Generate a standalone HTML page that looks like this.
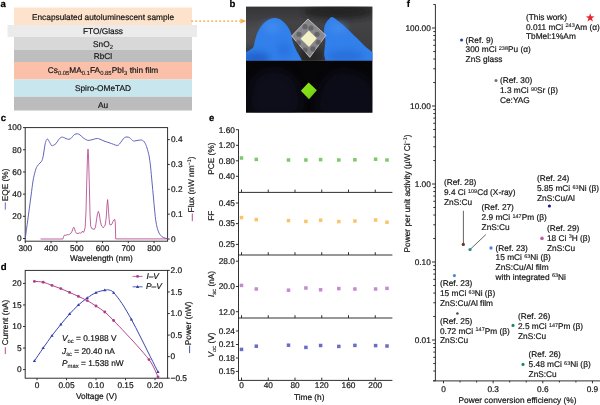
<!DOCTYPE html>
<html lang="en">
<head>
<meta charset="utf-8">
<title>Figure</title>
<style>
html,body{margin:0;padding:0;background:#fff;}
body{width:600px;height:405px;overflow:hidden;}
svg{display:block;}
svg text{font-family:"Liberation Sans",Arial,Helvetica,sans-serif;font-size:8.3px;fill:#151515;stroke:#151515;stroke-width:0.2px;text-rendering:geometricPrecision;}
svg text.pl{font-weight:bold;font-size:9.6px;fill:#000;stroke:#000;stroke-width:0.2px;}
</style>
</head>
<body>
<svg width="600" height="405" viewBox="0 0 600 405">
<defs>
<filter id="b1" x="-20%" y="-20%" width="140%" height="140%"><feGaussianBlur stdDeviation="0.7"/></filter>
<filter id="b2" x="-60%" y="-60%" width="220%" height="220%"><feGaussianBlur stdDeviation="3"/></filter>
<filter id="b5" x="-60%" y="-60%" width="220%" height="220%"><feGaussianBlur stdDeviation="5"/></filter>
<filter id="b05" x="-20%" y="-20%" width="140%" height="140%"><feGaussianBlur stdDeviation="0.45"/></filter>
<clipPath id="cpTop"><rect x="246" y="6.6" width="126.4" height="54.2"/></clipPath>
<clipPath id="cpBot"><rect x="246" y="60.8" width="126.4" height="51.9"/></clipPath>
<linearGradient id="gTop" x1="0" y1="0" x2="0" y2="1">
<stop offset="0" stop-color="#353537"/><stop offset="0.3" stop-color="#434346"/><stop offset="1" stop-color="#3a3a3d"/>
</linearGradient>
<linearGradient id="gGreen" x1="0" y1="0" x2="1" y2="1">
<stop offset="0" stop-color="#93e61f"/><stop offset="0.55" stop-color="#7fdc14"/><stop offset="1" stop-color="#62bd10"/>
</linearGradient>
</defs>
<rect x="0" y="0" width="600" height="405" fill="#ffffff"/>

<g id="panel-a">
<text x="0.50" y="7.00" text-anchor="start" class="pl">a</text>
<rect x="14" y="7.5" width="178" height="17.5" fill="#fde3cc"/>
<rect x="7.5" y="25" width="189.5" height="12" fill="#ebebeb"/>
<rect x="14" y="37" width="178" height="13" fill="#d8d8d8"/>
<rect x="14" y="50" width="178" height="12" fill="#bebebe"/>
<rect x="14" y="62" width="178" height="17.5" fill="#fbc0a9"/>
<rect x="14" y="79.5" width="178" height="17.3" fill="#c8e6ee"/>
<rect x="14" y="96.8" width="178" height="13.7" fill="#bcbcbc"/>
<text x="103.00" y="19.70" text-anchor="middle" >Encapsulated autoluminescent sample</text>
<text x="103.00" y="33.80" text-anchor="middle" >FTO/Glass</text>
<text x="103.00" y="46.60" text-anchor="middle" >SnO<tspan font-size="5.9" dy="2.0" stroke-width="0.1">2</tspan><tspan dy="-2.0" font-size="8.3">&#8203;</tspan></text>
<text x="103.00" y="58.80" text-anchor="middle" >RbCl</text>
<text x="103.00" y="73.30" text-anchor="middle" >Cs<tspan font-size="5.9" dy="2.0" stroke-width="0.1">0.05</tspan><tspan dy="-2.0" font-size="8.3">&#8203;</tspan>MA<tspan font-size="5.9" dy="2.0" stroke-width="0.1">0.1</tspan><tspan dy="-2.0" font-size="8.3">&#8203;</tspan>FA<tspan font-size="5.9" dy="2.0" stroke-width="0.1">0.85</tspan><tspan dy="-2.0" font-size="8.3">&#8203;</tspan>PbI<tspan font-size="5.9" dy="2.0" stroke-width="0.1">3</tspan><tspan dy="-2.0" font-size="8.3">&#8203;</tspan> thin film</text>
<text x="103.00" y="91.30" text-anchor="middle" >Spiro-OMeTAD</text>
<text x="103.00" y="107.90" text-anchor="middle" >Au</text>
<line x1="191.20" y1="21.10" x2="241.00" y2="21.10" stroke="#f6a53b" stroke-width="1.15" stroke-dasharray="2 2"/>
<path d="M239.6,18.5 L246.2,21.1 L239.6,23.8 L241.6,21.1 Z" fill="#f6a53b"/>
</g>
<g id="panel-b">
<text x="229.50" y="7.00" text-anchor="start" class="pl">b</text>
<rect x="246" y="6.6" width="126.4" height="54.2" fill="url(#gTop)"/>
<g clip-path="url(#cpTop)">
<ellipse cx="262" cy="36" rx="26" ry="12" fill="#505053" opacity="0.8" filter="url(#b2)"/>
<ellipse cx="338" cy="12" rx="34" ry="7" fill="#1c1c1e" opacity="0.75" filter="url(#b2)"/>
<ellipse cx="311" cy="56" rx="12" ry="9" fill="#222224" opacity="0.8" filter="url(#b2)"/>
<path d="M244.00,53.20 C244.37,53.02 245.22,52.65 246.20,52.10 C247.18,51.55 248.70,50.77 249.90,49.90 C251.10,49.03 252.57,48.38 253.40,46.90 C254.23,45.42 254.28,43.22 254.90,41.00 C255.52,38.78 256.23,35.82 257.10,33.60 C257.97,31.38 258.87,29.55 260.10,27.70 C261.33,25.85 262.87,23.95 264.50,22.50 C266.13,21.05 268.22,19.75 269.90,19.00 C271.58,18.25 272.87,17.93 274.60,18.00 C276.33,18.07 278.57,18.53 280.30,19.40 C282.03,20.27 283.58,21.70 285.00,23.20 C286.42,24.70 287.78,26.67 288.80,28.40 C289.82,30.13 290.48,31.50 291.10,33.60 C291.72,35.70 291.78,38.53 292.50,41.00 C293.22,43.47 294.32,46.07 295.40,48.40 C296.48,50.73 297.93,53.03 299.00,55.00 C300.07,56.97 301.10,58.87 301.80,60.20 C302.50,61.53 302.97,62.53 303.20,63.00 L244,63 Z" fill="#3180eb" filter="url(#b05)"/>
<ellipse cx="256" cy="58" rx="14" ry="6" fill="#1d55c0" opacity="0.7" filter="url(#b2)"/>
<ellipse cx="272" cy="27" rx="9" ry="6" fill="#4b93f2" opacity="0.55" filter="url(#b2)"/>
<ellipse cx="284" cy="50" rx="7" ry="8" fill="#2468d6" opacity="0.5" filter="url(#b2)"/>
<path d="M325.50,63.00 C325.48,62.53 325.62,61.65 325.40,60.20 C325.18,58.75 324.30,56.52 324.20,54.30 C324.10,52.08 324.60,49.37 324.80,46.90 C325.00,44.43 325.52,41.72 325.40,39.50 C325.28,37.28 324.30,35.57 324.10,33.60 C323.90,31.63 323.83,29.55 324.20,27.70 C324.57,25.85 325.22,24.20 326.30,22.50 C327.38,20.80 329.55,18.32 330.70,17.50 C331.85,16.68 332.33,17.30 333.20,17.60 C334.07,17.90 334.35,18.15 335.90,19.30 C337.45,20.45 340.17,22.52 342.50,24.50 C344.83,26.48 347.43,28.85 349.90,31.20 C352.37,33.55 354.83,36.13 357.30,38.60 C359.77,41.07 362.23,43.77 364.70,46.00 C367.17,48.23 370.38,50.58 372.10,52.00 C373.82,53.42 374.52,54.08 375.00,54.50 L375,63 Z" fill="#3180eb" filter="url(#b05)"/>
<ellipse cx="338" cy="28" rx="9" ry="6" fill="#4b93f2" opacity="0.5" filter="url(#b2)"/>
<ellipse cx="345" cy="56" rx="18" ry="6" fill="#2263d0" opacity="0.55" filter="url(#b2)"/>
<path d="M307.90,19.00 L325.90,35.30 L309.80,57.40 L291.60,36.00 Z" fill="#a2a2a6" fill-opacity="0.74" stroke="#d6d6d9" stroke-width="0.8" stroke-opacity="0.95" filter="url(#b05)"/>
<circle cx="305.00" cy="26.67" r="2.6" fill="#2c2c30" opacity="0.38" filter="url(#b1)"/>
<circle cx="311.00" cy="28.00" r="2.6" fill="#2c2c30" opacity="0.38" filter="url(#b1)"/>
<circle cx="317.00" cy="34.27" r="2.6" fill="#2c2c30" opacity="0.38" filter="url(#b1)"/>
<circle cx="299.00" cy="34.27" r="2.6" fill="#2c2c30" opacity="0.38" filter="url(#b1)"/>
<circle cx="318.33" cy="42.27" r="2.6" fill="#2c2c30" opacity="0.38" filter="url(#b1)"/>
<circle cx="298.33" cy="42.93" r="2.6" fill="#2c2c30" opacity="0.38" filter="url(#b1)"/>
<circle cx="305.00" cy="50.00" r="2.6" fill="#2c2c30" opacity="0.38" filter="url(#b1)"/>
<circle cx="313.00" cy="48.93" r="2.6" fill="#2c2c30" opacity="0.38" filter="url(#b1)"/>
<path d="M308.70,30.60 L316.80,38.30 L309.00,47.00 L300.60,38.70 Z" fill="#f4f0c6" filter="url(#b05)"/>
</g>
<rect x="246" y="60.8" width="126.4" height="51.9" fill="#060609"/>
<g clip-path="url(#cpBot)">
<path d="M252.80,82.20 C255.37,75.05 262.34,71.57 268.20,70.10 C274.07,68.63 282.87,70.28 288.00,73.40 C293.14,76.52 297.54,82.20 299.01,88.80 C300.47,95.40 304.51,108.97 296.81,113.01 C289.10,117.04 260.13,118.14 252.80,113.01 C245.47,107.87 250.23,89.35 252.80,82.20 Z" fill="#16162e" opacity="0.5" filter="url(#b5)"/>
<path d="M321.01,88.80 C322.84,82.20 327.24,76.34 332.01,73.40 C336.78,70.47 343.01,69.37 349.61,71.20 C356.21,73.03 367.58,77.44 371.61,84.40 C375.65,91.37 382.25,108.24 373.81,113.01 C365.38,117.77 329.81,117.04 321.01,113.01 C312.21,108.97 319.17,95.40 321.01,88.80 Z" fill="#16162e" opacity="0.45" filter="url(#b5)"/>
<path d="M308.60,82.50 L316.90,90.30 L309.00,99.30 L300.90,90.80 Z" fill="url(#gGreen)" filter="url(#b05)"/>
</g>
</g>
<g id="panel-c">
<text x="0.80" y="120.80" text-anchor="start" class="pl">c</text>
<rect x="25.2" y="127.6" width="142.40" height="113.60" fill="none" stroke="#262626" stroke-width="0.95"/>
<line x1="23.00" y1="238.50" x2="25.20" y2="238.50" stroke="#262626" stroke-width="0.95" />
<text x="21.60" y="241.35" text-anchor="end" >0</text>
<line x1="23.00" y1="216.32" x2="25.20" y2="216.32" stroke="#262626" stroke-width="0.95" />
<text x="21.60" y="219.17" text-anchor="end" >20</text>
<line x1="23.00" y1="194.14" x2="25.20" y2="194.14" stroke="#262626" stroke-width="0.95" />
<text x="21.60" y="196.99" text-anchor="end" >40</text>
<line x1="23.00" y1="171.96" x2="25.20" y2="171.96" stroke="#262626" stroke-width="0.95" />
<text x="21.60" y="174.81" text-anchor="end" >60</text>
<line x1="23.00" y1="149.78" x2="25.20" y2="149.78" stroke="#262626" stroke-width="0.95" />
<text x="21.60" y="152.63" text-anchor="end" >80</text>
<line x1="23.00" y1="127.60" x2="25.20" y2="127.60" stroke="#262626" stroke-width="0.95" />
<text x="21.60" y="130.45" text-anchor="end" >100</text>
<line x1="167.60" y1="239.00" x2="169.80" y2="239.00" stroke="#262626" stroke-width="0.95" />
<text x="171.00" y="241.85" text-anchor="start" >0</text>
<line x1="167.60" y1="214.15" x2="169.80" y2="214.15" stroke="#262626" stroke-width="0.95" />
<text x="171.00" y="217.00" text-anchor="start" >0.1</text>
<line x1="167.60" y1="189.30" x2="169.80" y2="189.30" stroke="#262626" stroke-width="0.95" />
<text x="171.00" y="192.15" text-anchor="start" >0.2</text>
<line x1="167.60" y1="164.45" x2="169.80" y2="164.45" stroke="#262626" stroke-width="0.95" />
<text x="171.00" y="167.30" text-anchor="start" >0.3</text>
<line x1="167.60" y1="139.60" x2="169.80" y2="139.60" stroke="#262626" stroke-width="0.95" />
<text x="171.00" y="142.45" text-anchor="start" >0.4</text>
<line x1="25.30" y1="241.20" x2="25.30" y2="243.20" stroke="#262626" stroke-width="0.95" />
<text x="25.30" y="251.00" text-anchor="middle" >300</text>
<line x1="51.05" y1="241.20" x2="51.05" y2="243.20" stroke="#262626" stroke-width="0.95" />
<text x="51.05" y="251.00" text-anchor="middle" >400</text>
<line x1="76.80" y1="241.20" x2="76.80" y2="243.20" stroke="#262626" stroke-width="0.95" />
<text x="76.80" y="251.00" text-anchor="middle" >500</text>
<line x1="102.55" y1="241.20" x2="102.55" y2="243.20" stroke="#262626" stroke-width="0.95" />
<text x="102.55" y="251.00" text-anchor="middle" >600</text>
<line x1="128.30" y1="241.20" x2="128.30" y2="243.20" stroke="#262626" stroke-width="0.95" />
<text x="128.30" y="251.00" text-anchor="middle" >700</text>
<line x1="154.05" y1="241.20" x2="154.05" y2="243.20" stroke="#262626" stroke-width="0.95" />
<text x="154.05" y="251.00" text-anchor="middle" >800</text>
<text x="101.40" y="261.30" text-anchor="middle" >Wavelength (nm)</text>
<text transform="translate(7.90 184.90) rotate(-90)" text-anchor="middle" >EQE (%)</text>
<line x1="5.30" y1="209.70" x2="5.30" y2="202.40" stroke="#5a5cb8" stroke-width="0.9" />
<text transform="translate(193.90 184.40) rotate(-90)" text-anchor="middle" >Flux (nW nm<tspan font-size="5.5" dy="-2.5" stroke-width="0.1">&#8722;1</tspan><tspan dy="2.5" font-size="8.3">&#8203;</tspan>)</text>
<line x1="192.30" y1="221.10" x2="192.30" y2="213.50" stroke="#ae3d86" stroke-width="0.9" />
<path d="M25.40,237.50 C25.75,234.92 26.57,228.92 27.50,222.00 C28.43,215.08 30.08,202.83 31.00,196.00 C31.92,189.17 32.33,185.00 33.00,181.00 C33.67,177.00 34.33,174.42 35.00,172.00 C35.67,169.58 36.17,168.00 37.00,166.50 C37.83,165.00 39.17,164.00 40.00,163.00 C40.83,162.00 41.43,161.83 42.00,160.50 C42.57,159.17 42.97,157.25 43.40,155.00 C43.83,152.75 44.20,149.25 44.60,147.00 C45.00,144.75 45.33,142.83 45.80,141.50 C46.27,140.17 46.83,139.00 47.40,139.00 C47.97,139.00 48.52,140.42 49.20,141.50 C49.88,142.58 50.78,144.88 51.50,145.50 C52.22,146.12 52.75,145.52 53.50,145.20 C54.25,144.88 55.17,144.50 56.00,143.60 C56.83,142.70 57.60,140.87 58.50,139.80 C59.40,138.73 60.40,137.53 61.40,137.20 C62.40,136.87 63.48,137.47 64.50,137.80 C65.52,138.13 66.50,139.03 67.50,139.20 C68.50,139.37 69.67,139.25 70.50,138.80 C71.33,138.35 71.83,137.22 72.50,136.50 C73.17,135.78 73.65,134.95 74.50,134.50 C75.35,134.05 76.68,133.72 77.60,133.80 C78.52,133.88 79.02,134.30 80.00,135.00 C80.98,135.70 82.27,137.12 83.50,138.00 C84.73,138.88 86.15,139.97 87.40,140.30 C88.65,140.63 89.82,140.22 91.00,140.00 C92.18,139.78 93.43,139.25 94.50,139.00 C95.57,138.75 96.48,138.47 97.40,138.50 C98.32,138.53 98.90,138.78 100.00,139.20 C101.10,139.62 102.50,140.42 104.00,141.00 C105.50,141.58 107.42,142.15 109.00,142.70 C110.58,143.25 112.13,143.83 113.50,144.30 C114.87,144.77 116.20,145.55 117.20,145.50 C118.20,145.45 118.70,144.82 119.50,144.00 C120.30,143.18 121.17,141.67 122.00,140.60 C122.83,139.53 123.67,138.20 124.50,137.60 C125.33,137.00 126.18,137.00 127.00,137.00 C127.82,137.00 128.65,137.18 129.40,137.60 C130.15,138.02 130.82,138.93 131.50,139.50 C132.18,140.07 132.75,140.80 133.50,141.00 C134.25,141.20 135.08,140.83 136.00,140.70 C136.92,140.57 138.08,140.32 139.00,140.20 C139.92,140.08 140.75,139.87 141.50,140.00 C142.25,140.13 142.87,140.42 143.50,141.00 C144.13,141.58 144.72,142.33 145.30,143.50 C145.88,144.67 146.38,146.00 147.00,148.00 C147.62,150.00 148.40,152.33 149.00,155.50 C149.60,158.67 150.10,162.58 150.60,167.00 C151.10,171.42 151.53,177.00 152.00,182.00 C152.47,187.00 152.97,192.33 153.40,197.00 C153.83,201.67 154.17,205.83 154.60,210.00 C155.03,214.17 155.43,218.58 156.00,222.00 C156.57,225.42 157.25,228.30 158.00,230.50 C158.75,232.70 159.58,234.02 160.50,235.20 C161.42,236.38 162.35,237.03 163.50,237.60 C164.65,238.17 166.75,238.43 167.40,238.60" fill="none" stroke="#5a5cb8" stroke-width="0.95" stroke-linejoin="round" stroke-linecap="round"/>
<polyline points="41.00,239.00 62.80,239.00 63.60,236.50 64.60,235.00 66.00,235.40 67.00,234.60 68.50,234.80 70.00,234.00 71.00,233.20 72.20,231.00 73.20,228.00 73.80,227.20 74.50,228.50 75.40,231.60 76.50,233.40 78.00,233.60 79.20,232.80 80.50,233.20 81.80,232.40 82.60,231.00 83.30,232.40 84.30,231.00 85.20,227.00 86.00,211.00 86.70,184.00 87.50,156.00 88.00,149.00 88.50,156.00 89.30,184.00 90.00,214.00 90.70,226.00 91.60,228.40 93.00,229.00 94.30,229.40 95.50,227.00 96.50,220.00 97.50,213.50 98.40,211.40 99.30,214.00 100.30,221.00 101.20,225.00 102.30,226.60 103.20,227.80 104.20,226.60 105.20,225.00 106.20,218.00 107.00,205.00 107.60,199.60 108.20,206.00 109.00,218.00 109.80,224.60 111.00,225.00 112.00,223.80 113.00,221.50 114.00,219.80 114.70,219.30 115.30,222.50 115.70,238.90 167.40,238.90" fill="none" stroke="#ae3d86" stroke-width="0.8" stroke-linejoin="round" stroke-linecap="round" />
</g>
<g id="panel-d">
<text x="0.80" y="270.30" text-anchor="start" class="pl">d</text>
<rect x="25.2" y="270.4" width="142.40" height="107.80" fill="none" stroke="#262626" stroke-width="0.95"/>
<line x1="23.00" y1="369.60" x2="25.20" y2="369.60" stroke="#262626" stroke-width="0.95" />
<text x="21.60" y="372.45" text-anchor="end" >0</text>
<line x1="23.00" y1="348.05" x2="25.20" y2="348.05" stroke="#262626" stroke-width="0.95" />
<text x="21.60" y="350.90" text-anchor="end" >5</text>
<line x1="23.00" y1="326.50" x2="25.20" y2="326.50" stroke="#262626" stroke-width="0.95" />
<text x="21.60" y="329.35" text-anchor="end" >10</text>
<line x1="23.00" y1="304.95" x2="25.20" y2="304.95" stroke="#262626" stroke-width="0.95" />
<text x="21.60" y="307.80" text-anchor="end" >15</text>
<line x1="23.00" y1="283.40" x2="25.20" y2="283.40" stroke="#262626" stroke-width="0.95" />
<text x="21.60" y="286.25" text-anchor="end" >20</text>
<line x1="167.60" y1="378.20" x2="169.80" y2="378.20" stroke="#262626" stroke-width="0.95" />
<text x="170.60" y="381.05" text-anchor="start" >&#8722;0.5</text>
<line x1="167.60" y1="356.64" x2="169.80" y2="356.64" stroke="#262626" stroke-width="0.95" />
<text x="170.60" y="359.49" text-anchor="start" >0</text>
<line x1="167.60" y1="335.08" x2="169.80" y2="335.08" stroke="#262626" stroke-width="0.95" />
<text x="170.60" y="337.93" text-anchor="start" >0.5</text>
<line x1="167.60" y1="313.52" x2="169.80" y2="313.52" stroke="#262626" stroke-width="0.95" />
<text x="170.60" y="316.37" text-anchor="start" >1.0</text>
<line x1="167.60" y1="291.96" x2="169.80" y2="291.96" stroke="#262626" stroke-width="0.95" />
<text x="170.60" y="294.81" text-anchor="start" >1.5</text>
<line x1="167.60" y1="270.40" x2="169.80" y2="270.40" stroke="#262626" stroke-width="0.95" />
<text x="170.60" y="273.25" text-anchor="start" >2.0</text>
<line x1="37.00" y1="378.20" x2="37.00" y2="380.20" stroke="#262626" stroke-width="0.95" />
<text x="37.00" y="388.00" text-anchor="middle" >0</text>
<line x1="66.50" y1="378.20" x2="66.50" y2="380.20" stroke="#262626" stroke-width="0.95" />
<text x="66.50" y="388.00" text-anchor="middle" >0.05</text>
<line x1="96.00" y1="378.20" x2="96.00" y2="380.20" stroke="#262626" stroke-width="0.95" />
<text x="96.00" y="388.00" text-anchor="middle" >0.10</text>
<line x1="125.50" y1="378.20" x2="125.50" y2="380.20" stroke="#262626" stroke-width="0.95" />
<text x="125.50" y="388.00" text-anchor="middle" >0.15</text>
<line x1="155.00" y1="378.20" x2="155.00" y2="380.20" stroke="#262626" stroke-width="0.95" />
<text x="155.00" y="388.00" text-anchor="middle" >0.20</text>
<text x="96.50" y="399.20" text-anchor="middle" >Voltage (V)</text>
<text transform="translate(7.90 322.50) rotate(-90)" text-anchor="middle" >Current (nA)</text>
<line x1="5.30" y1="354.10" x2="5.30" y2="347.20" stroke="#ae3d86" stroke-width="0.9" />
<text transform="translate(191.40 323.30) rotate(-90)" text-anchor="middle" >Power (nW)</text>
<line x1="189.60" y1="353.10" x2="189.60" y2="345.70" stroke="#323bac" stroke-width="0.9" />
<path d="M34.40,361.00 C35.87,358.83 40.27,352.23 43.20,348.00 C46.13,343.77 49.07,339.52 52.00,335.60 C54.93,331.68 57.87,328.10 60.80,324.50 C63.73,320.90 66.67,317.25 69.60,314.00 C72.53,310.75 75.47,307.67 78.40,305.00 C81.33,302.33 84.27,300.07 87.20,298.00 C90.13,295.93 93.07,293.90 96.00,292.60 C98.93,291.30 102.55,290.62 104.80,290.20 C107.05,289.78 108.03,289.70 109.50,290.10 C110.97,290.50 111.52,290.37 113.60,292.60 C115.68,294.83 119.03,299.03 122.00,303.50 C124.97,307.97 128.40,313.98 131.40,319.40 C134.40,324.82 137.07,330.23 140.00,336.00 C142.93,341.77 146.00,348.00 149.00,354.00 C152.00,360.00 156.50,369.00 158.00,372.00" fill="none" stroke="#323bac" stroke-width="0.95" stroke-linejoin="round" stroke-linecap="round"/>
<path d="M34.40,281.40 C35.87,281.53 40.27,281.53 43.20,282.20 C46.13,282.87 49.07,284.33 52.00,285.40 C54.93,286.47 57.87,287.43 60.80,288.60 C63.73,289.77 66.67,291.10 69.60,292.40 C72.53,293.70 75.47,295.03 78.40,296.40 C81.33,297.77 84.27,299.00 87.20,300.60 C90.13,302.20 93.07,304.10 96.00,306.00 C98.93,307.90 101.87,309.58 104.80,312.00 C107.73,314.42 110.23,317.08 113.60,320.50 C116.97,323.92 121.10,328.33 125.00,332.50 C128.90,336.67 133.00,340.98 137.00,345.50 C141.00,350.02 146.17,355.85 149.00,359.60 C151.83,363.35 152.50,365.10 154.00,368.00 C155.50,370.90 157.33,375.50 158.00,377.00" fill="none" stroke="#ae3d86" stroke-width="0.95" stroke-linejoin="round" stroke-linecap="round"/>
<circle cx="34.40" cy="281.40" r="1.45" fill="#ae3d86"/>
<circle cx="43.20" cy="282.20" r="1.45" fill="#ae3d86"/>
<circle cx="52.00" cy="285.40" r="1.45" fill="#ae3d86"/>
<circle cx="60.80" cy="288.60" r="1.45" fill="#ae3d86"/>
<circle cx="69.60" cy="292.40" r="1.45" fill="#ae3d86"/>
<circle cx="78.40" cy="296.40" r="1.45" fill="#ae3d86"/>
<circle cx="87.20" cy="300.60" r="1.45" fill="#ae3d86"/>
<circle cx="96.00" cy="306.00" r="1.45" fill="#ae3d86"/>
<circle cx="104.80" cy="312.00" r="1.45" fill="#ae3d86"/>
<circle cx="113.60" cy="320.50" r="1.45" fill="#ae3d86"/>
<circle cx="149.00" cy="359.60" r="1.45" fill="#ae3d86"/>
<circle cx="158.00" cy="377.00" r="1.45" fill="#ae3d86"/>
<path d="M34.40,359.30 L36.00,362.10 L32.80,362.10 Z" fill="#323bac"/>
<path d="M43.20,346.30 L44.80,349.10 L41.60,349.10 Z" fill="#323bac"/>
<path d="M52.00,333.90 L53.60,336.70 L50.40,336.70 Z" fill="#323bac"/>
<path d="M60.80,322.80 L62.40,325.60 L59.20,325.60 Z" fill="#323bac"/>
<path d="M69.60,312.30 L71.20,315.10 L68.00,315.10 Z" fill="#323bac"/>
<path d="M78.40,303.30 L80.00,306.10 L76.80,306.10 Z" fill="#323bac"/>
<path d="M87.20,296.30 L88.80,299.10 L85.60,299.10 Z" fill="#323bac"/>
<path d="M96.00,290.90 L97.60,293.70 L94.40,293.70 Z" fill="#323bac"/>
<path d="M104.80,288.50 L106.40,291.30 L103.20,291.30 Z" fill="#323bac"/>
<path d="M113.60,290.90 L115.20,293.70 L112.00,293.70 Z" fill="#323bac"/>
<path d="M131.40,317.70 L133.00,320.50 L129.80,320.50 Z" fill="#323bac"/>
<path d="M158.00,370.30 L159.60,373.10 L156.40,373.10 Z" fill="#323bac"/>
<line x1="132.60" y1="276.40" x2="142.60" y2="276.40" stroke="#ae3d86" stroke-width="0.8" />
<circle cx="137.6" cy="276.4" r="1.45" fill="#ae3d86"/>
<text x="146.40" y="279.00" text-anchor="start" font-style="italic">I&#8211;V</text>
<line x1="132.60" y1="286.80" x2="142.60" y2="286.80" stroke="#323bac" stroke-width="0.8" />
<path d="M137.6,285.1 L139.2,287.9 L136,287.9 Z" fill="#323bac"/>
<text x="146.00" y="289.40" text-anchor="start" font-style="italic">P&#8211;V</text>
<text x="62.00" y="341.40" text-anchor="start" ><tspan font-style="italic">V</tspan><tspan font-size="5.9" dy="2.0" stroke-width="0.1">oc</tspan><tspan dy="-2.0" font-size="8.3">&#8203;</tspan> = 0.1988 V</text>
<text x="62.00" y="353.50" text-anchor="start" ><tspan font-style="italic">J</tspan><tspan font-size="5.9" dy="2.0" stroke-width="0.1">sc</tspan><tspan dy="-2.0" font-size="8.3">&#8203;</tspan> = 20.40 nA</text>
<text x="62.00" y="365.50" text-anchor="start" ><tspan font-style="italic">P</tspan><tspan font-size="5.9" dy="2.0" stroke-width="0.1">max</tspan><tspan dy="-2.0" font-size="8.3">&#8203;</tspan> = 1.538 nW</text>
</g>
<g id="panel-e">
<text x="208.90" y="120.90" text-anchor="start" class="pl">e</text>
<line x1="238.50" y1="129.40" x2="238.50" y2="380.40" stroke="#262626" stroke-width="0.95" />
<line x1="238.10" y1="192.40" x2="392.40" y2="192.40" stroke="#262626" stroke-width="0.95" />
<line x1="241.50" y1="189.60" x2="241.50" y2="192.40" stroke="#262626" stroke-width="0.95" />
<line x1="268.25" y1="189.60" x2="268.25" y2="192.40" stroke="#262626" stroke-width="0.95" />
<line x1="295.00" y1="189.60" x2="295.00" y2="192.40" stroke="#262626" stroke-width="0.95" />
<line x1="321.75" y1="189.60" x2="321.75" y2="192.40" stroke="#262626" stroke-width="0.95" />
<line x1="348.50" y1="189.60" x2="348.50" y2="192.40" stroke="#262626" stroke-width="0.95" />
<line x1="375.25" y1="189.60" x2="375.25" y2="192.40" stroke="#262626" stroke-width="0.95" />
<line x1="238.10" y1="255.00" x2="392.40" y2="255.00" stroke="#262626" stroke-width="0.95" />
<line x1="241.50" y1="252.20" x2="241.50" y2="255.00" stroke="#262626" stroke-width="0.95" />
<line x1="268.25" y1="252.20" x2="268.25" y2="255.00" stroke="#262626" stroke-width="0.95" />
<line x1="295.00" y1="252.20" x2="295.00" y2="255.00" stroke="#262626" stroke-width="0.95" />
<line x1="321.75" y1="252.20" x2="321.75" y2="255.00" stroke="#262626" stroke-width="0.95" />
<line x1="348.50" y1="252.20" x2="348.50" y2="255.00" stroke="#262626" stroke-width="0.95" />
<line x1="375.25" y1="252.20" x2="375.25" y2="255.00" stroke="#262626" stroke-width="0.95" />
<line x1="238.10" y1="318.00" x2="392.40" y2="318.00" stroke="#262626" stroke-width="0.95" />
<line x1="241.50" y1="315.20" x2="241.50" y2="318.00" stroke="#262626" stroke-width="0.95" />
<line x1="268.25" y1="315.20" x2="268.25" y2="318.00" stroke="#262626" stroke-width="0.95" />
<line x1="295.00" y1="315.20" x2="295.00" y2="318.00" stroke="#262626" stroke-width="0.95" />
<line x1="321.75" y1="315.20" x2="321.75" y2="318.00" stroke="#262626" stroke-width="0.95" />
<line x1="348.50" y1="315.20" x2="348.50" y2="318.00" stroke="#262626" stroke-width="0.95" />
<line x1="375.25" y1="315.20" x2="375.25" y2="318.00" stroke="#262626" stroke-width="0.95" />
<line x1="238.10" y1="380.40" x2="392.40" y2="380.40" stroke="#262626" stroke-width="0.95" />
<line x1="241.50" y1="377.60" x2="241.50" y2="380.40" stroke="#262626" stroke-width="0.95" />
<line x1="268.25" y1="377.60" x2="268.25" y2="380.40" stroke="#262626" stroke-width="0.95" />
<line x1="295.00" y1="377.60" x2="295.00" y2="380.40" stroke="#262626" stroke-width="0.95" />
<line x1="321.75" y1="377.60" x2="321.75" y2="380.40" stroke="#262626" stroke-width="0.95" />
<line x1="348.50" y1="377.60" x2="348.50" y2="380.40" stroke="#262626" stroke-width="0.95" />
<line x1="375.25" y1="377.60" x2="375.25" y2="380.40" stroke="#262626" stroke-width="0.95" />
<text x="241.50" y="388.40" text-anchor="middle" >0</text>
<text x="268.25" y="388.40" text-anchor="middle" >40</text>
<text x="295.00" y="388.40" text-anchor="middle" >80</text>
<text x="321.75" y="388.40" text-anchor="middle" >120</text>
<text x="348.50" y="388.40" text-anchor="middle" >160</text>
<text x="375.25" y="388.40" text-anchor="middle" >200</text>
<text x="309.20" y="400.00" text-anchor="middle" >Time (h)</text>
<line x1="235.90" y1="129.70" x2="238.50" y2="129.70" stroke="#262626" stroke-width="0.95" />
<text x="234.90" y="132.55" text-anchor="end" >1.60</text>
<line x1="235.90" y1="145.30" x2="238.50" y2="145.30" stroke="#262626" stroke-width="0.95" />
<text x="234.90" y="148.15" text-anchor="end" >1.20</text>
<line x1="235.90" y1="160.80" x2="238.50" y2="160.80" stroke="#262626" stroke-width="0.95" />
<text x="234.90" y="163.65" text-anchor="end" >0.80</text>
<line x1="235.90" y1="176.30" x2="238.50" y2="176.30" stroke="#262626" stroke-width="0.95" />
<text x="234.90" y="179.15" text-anchor="end" >0.40</text>
<line x1="235.90" y1="203.00" x2="238.50" y2="203.00" stroke="#262626" stroke-width="0.95" />
<text x="234.90" y="205.85" text-anchor="end" >0.45</text>
<line x1="235.90" y1="223.60" x2="238.50" y2="223.60" stroke="#262626" stroke-width="0.95" />
<text x="234.90" y="226.45" text-anchor="end" >0.35</text>
<line x1="235.90" y1="244.40" x2="238.50" y2="244.40" stroke="#262626" stroke-width="0.95" />
<text x="234.90" y="247.25" text-anchor="end" >0.25</text>
<line x1="235.90" y1="261.20" x2="238.50" y2="261.20" stroke="#262626" stroke-width="0.95" />
<text x="234.90" y="264.05" text-anchor="end" >28.0</text>
<line x1="235.90" y1="286.50" x2="238.50" y2="286.50" stroke="#262626" stroke-width="0.95" />
<text x="234.90" y="289.35" text-anchor="end" >20.0</text>
<line x1="235.90" y1="311.70" x2="238.50" y2="311.70" stroke="#262626" stroke-width="0.95" />
<text x="234.90" y="314.55" text-anchor="end" >12.0</text>
<line x1="235.90" y1="331.00" x2="238.50" y2="331.00" stroke="#262626" stroke-width="0.95" />
<text x="234.90" y="333.85" text-anchor="end" >0.24</text>
<line x1="235.90" y1="344.50" x2="238.50" y2="344.50" stroke="#262626" stroke-width="0.95" />
<text x="234.90" y="347.35" text-anchor="end" >0.21</text>
<line x1="235.90" y1="358.00" x2="238.50" y2="358.00" stroke="#262626" stroke-width="0.95" />
<text x="234.90" y="360.85" text-anchor="end" >0.18</text>
<line x1="235.90" y1="371.40" x2="238.50" y2="371.40" stroke="#262626" stroke-width="0.95" />
<text x="234.90" y="374.25" text-anchor="end" >0.15</text>
<text transform="translate(213.60 158.60) rotate(-90)" text-anchor="middle" >PCE (%)</text>
<text transform="translate(213.70 215.80) rotate(-90)" text-anchor="middle" >FF</text>
<text transform="translate(213.50 284.00) rotate(-90)" text-anchor="middle" ><tspan font-style="italic">I</tspan><tspan font-size="5.9" dy="2.0" stroke-width="0.1">sc</tspan><tspan dy="-2.0" font-size="8.3">&#8203;</tspan> (nA)</text>
<text transform="translate(213.50 345.00) rotate(-90)" text-anchor="middle" ><tspan font-style="italic">V</tspan><tspan font-size="5.9" dy="2.0" stroke-width="0.1">oc</tspan><tspan dy="-2.0" font-size="8.3">&#8203;</tspan> (V)</text>
<rect x="239.75" y="156.25" width="3.5" height="3.5" fill="#7cc96a"/>
<rect x="254.55" y="157.65" width="3.5" height="3.5" fill="#7cc96a"/>
<rect x="286.75" y="158.25" width="3.5" height="3.5" fill="#7cc96a"/>
<rect x="304.15" y="158.25" width="3.5" height="3.5" fill="#7cc96a"/>
<rect x="318.85" y="157.85" width="3.5" height="3.5" fill="#7cc96a"/>
<rect x="337.05" y="158.25" width="3.5" height="3.5" fill="#7cc96a"/>
<rect x="353.15" y="158.05" width="3.5" height="3.5" fill="#7cc96a"/>
<rect x="373.85" y="157.45" width="3.5" height="3.5" fill="#7cc96a"/>
<rect x="385.25" y="158.25" width="3.5" height="3.5" fill="#7cc96a"/>
<rect x="239.75" y="215.85" width="3.5" height="3.5" fill="#fac368"/>
<rect x="254.55" y="217.85" width="3.5" height="3.5" fill="#fac368"/>
<rect x="286.75" y="218.85" width="3.5" height="3.5" fill="#fac368"/>
<rect x="304.15" y="219.65" width="3.5" height="3.5" fill="#fac368"/>
<rect x="318.85" y="218.45" width="3.5" height="3.5" fill="#fac368"/>
<rect x="337.05" y="219.85" width="3.5" height="3.5" fill="#fac368"/>
<rect x="353.15" y="219.25" width="3.5" height="3.5" fill="#fac368"/>
<rect x="373.85" y="218.25" width="3.5" height="3.5" fill="#fac368"/>
<rect x="385.25" y="220.45" width="3.5" height="3.5" fill="#fac368"/>
<rect x="239.75" y="283.65" width="3.5" height="3.5" fill="#c48bcf"/>
<rect x="254.55" y="287.25" width="3.5" height="3.5" fill="#c48bcf"/>
<rect x="286.75" y="288.45" width="3.5" height="3.5" fill="#c48bcf"/>
<rect x="304.15" y="286.25" width="3.5" height="3.5" fill="#c48bcf"/>
<rect x="318.85" y="288.05" width="3.5" height="3.5" fill="#c48bcf"/>
<rect x="337.05" y="286.85" width="3.5" height="3.5" fill="#c48bcf"/>
<rect x="353.15" y="287.25" width="3.5" height="3.5" fill="#c48bcf"/>
<rect x="373.85" y="287.25" width="3.5" height="3.5" fill="#c48bcf"/>
<rect x="385.25" y="286.65" width="3.5" height="3.5" fill="#c48bcf"/>
<rect x="239.75" y="347.65" width="3.5" height="3.5" fill="#6a6cc6"/>
<rect x="254.55" y="344.45" width="3.5" height="3.5" fill="#6a6cc6"/>
<rect x="286.75" y="343.45" width="3.5" height="3.5" fill="#6a6cc6"/>
<rect x="304.15" y="345.65" width="3.5" height="3.5" fill="#6a6cc6"/>
<rect x="318.85" y="343.75" width="3.5" height="3.5" fill="#6a6cc6"/>
<rect x="337.05" y="344.65" width="3.5" height="3.5" fill="#6a6cc6"/>
<rect x="353.15" y="343.65" width="3.5" height="3.5" fill="#6a6cc6"/>
<rect x="373.85" y="343.85" width="3.5" height="3.5" fill="#6a6cc6"/>
<rect x="385.25" y="344.25" width="3.5" height="3.5" fill="#6a6cc6"/>
</g>
<g id="panel-f">
<text x="406.80" y="6.90" text-anchor="start" class="pl">f</text>
<line x1="435.40" y1="4.40" x2="435.40" y2="380.90" stroke="#262626" stroke-width="0.95" />
<line x1="433.00" y1="380.90" x2="600.00" y2="380.90" stroke="#262626" stroke-width="0.95" />
<line x1="432.00" y1="28.00" x2="435.40" y2="28.00" stroke="#262626" stroke-width="0.95" />
<text x="430.80" y="30.85" text-anchor="end" >100.00</text>
<line x1="432.00" y1="106.00" x2="435.40" y2="106.00" stroke="#262626" stroke-width="0.95" />
<text x="430.80" y="108.85" text-anchor="end" >10.00</text>
<line x1="432.00" y1="184.00" x2="435.40" y2="184.00" stroke="#262626" stroke-width="0.95" />
<text x="430.80" y="186.85" text-anchor="end" >1.00</text>
<line x1="432.00" y1="262.00" x2="435.40" y2="262.00" stroke="#262626" stroke-width="0.95" />
<text x="430.80" y="264.85" text-anchor="end" >0.10</text>
<line x1="432.00" y1="340.00" x2="435.40" y2="340.00" stroke="#262626" stroke-width="0.95" />
<text x="430.80" y="342.85" text-anchor="end" >0.01</text>
<line x1="433.30" y1="4.52" x2="435.40" y2="4.52" stroke="#262626" stroke-width="0.95" />
<line x1="433.30" y1="82.52" x2="435.40" y2="82.52" stroke="#262626" stroke-width="0.95" />
<line x1="433.30" y1="68.78" x2="435.40" y2="68.78" stroke="#262626" stroke-width="0.95" />
<line x1="433.30" y1="59.04" x2="435.40" y2="59.04" stroke="#262626" stroke-width="0.95" />
<line x1="433.30" y1="51.48" x2="435.40" y2="51.48" stroke="#262626" stroke-width="0.95" />
<line x1="433.30" y1="45.30" x2="435.40" y2="45.30" stroke="#262626" stroke-width="0.95" />
<line x1="433.30" y1="40.08" x2="435.40" y2="40.08" stroke="#262626" stroke-width="0.95" />
<line x1="433.30" y1="35.56" x2="435.40" y2="35.56" stroke="#262626" stroke-width="0.95" />
<line x1="433.30" y1="31.57" x2="435.40" y2="31.57" stroke="#262626" stroke-width="0.95" />
<line x1="433.30" y1="160.52" x2="435.40" y2="160.52" stroke="#262626" stroke-width="0.95" />
<line x1="433.30" y1="146.78" x2="435.40" y2="146.78" stroke="#262626" stroke-width="0.95" />
<line x1="433.30" y1="137.04" x2="435.40" y2="137.04" stroke="#262626" stroke-width="0.95" />
<line x1="433.30" y1="129.48" x2="435.40" y2="129.48" stroke="#262626" stroke-width="0.95" />
<line x1="433.30" y1="123.30" x2="435.40" y2="123.30" stroke="#262626" stroke-width="0.95" />
<line x1="433.30" y1="118.08" x2="435.40" y2="118.08" stroke="#262626" stroke-width="0.95" />
<line x1="433.30" y1="113.56" x2="435.40" y2="113.56" stroke="#262626" stroke-width="0.95" />
<line x1="433.30" y1="109.57" x2="435.40" y2="109.57" stroke="#262626" stroke-width="0.95" />
<line x1="433.30" y1="238.52" x2="435.40" y2="238.52" stroke="#262626" stroke-width="0.95" />
<line x1="433.30" y1="224.78" x2="435.40" y2="224.78" stroke="#262626" stroke-width="0.95" />
<line x1="433.30" y1="215.04" x2="435.40" y2="215.04" stroke="#262626" stroke-width="0.95" />
<line x1="433.30" y1="207.48" x2="435.40" y2="207.48" stroke="#262626" stroke-width="0.95" />
<line x1="433.30" y1="201.30" x2="435.40" y2="201.30" stroke="#262626" stroke-width="0.95" />
<line x1="433.30" y1="196.08" x2="435.40" y2="196.08" stroke="#262626" stroke-width="0.95" />
<line x1="433.30" y1="191.56" x2="435.40" y2="191.56" stroke="#262626" stroke-width="0.95" />
<line x1="433.30" y1="187.57" x2="435.40" y2="187.57" stroke="#262626" stroke-width="0.95" />
<line x1="433.30" y1="316.52" x2="435.40" y2="316.52" stroke="#262626" stroke-width="0.95" />
<line x1="433.30" y1="302.78" x2="435.40" y2="302.78" stroke="#262626" stroke-width="0.95" />
<line x1="433.30" y1="293.04" x2="435.40" y2="293.04" stroke="#262626" stroke-width="0.95" />
<line x1="433.30" y1="285.48" x2="435.40" y2="285.48" stroke="#262626" stroke-width="0.95" />
<line x1="433.30" y1="279.30" x2="435.40" y2="279.30" stroke="#262626" stroke-width="0.95" />
<line x1="433.30" y1="274.08" x2="435.40" y2="274.08" stroke="#262626" stroke-width="0.95" />
<line x1="433.30" y1="269.56" x2="435.40" y2="269.56" stroke="#262626" stroke-width="0.95" />
<line x1="433.30" y1="265.57" x2="435.40" y2="265.57" stroke="#262626" stroke-width="0.95" />
<line x1="433.30" y1="380.78" x2="435.40" y2="380.78" stroke="#262626" stroke-width="0.95" />
<line x1="433.30" y1="371.04" x2="435.40" y2="371.04" stroke="#262626" stroke-width="0.95" />
<line x1="433.30" y1="363.48" x2="435.40" y2="363.48" stroke="#262626" stroke-width="0.95" />
<line x1="433.30" y1="357.30" x2="435.40" y2="357.30" stroke="#262626" stroke-width="0.95" />
<line x1="433.30" y1="352.08" x2="435.40" y2="352.08" stroke="#262626" stroke-width="0.95" />
<line x1="433.30" y1="347.56" x2="435.40" y2="347.56" stroke="#262626" stroke-width="0.95" />
<line x1="433.30" y1="343.57" x2="435.40" y2="343.57" stroke="#262626" stroke-width="0.95" />
<line x1="443.50" y1="380.90" x2="443.50" y2="383.30" stroke="#262626" stroke-width="0.95" />
<text x="443.50" y="391.60" text-anchor="middle" >0</text>
<line x1="460.05" y1="380.90" x2="460.05" y2="382.50" stroke="#262626" stroke-width="0.95" />
<line x1="476.60" y1="380.90" x2="476.60" y2="382.50" stroke="#262626" stroke-width="0.95" />
<line x1="493.15" y1="380.90" x2="493.15" y2="383.30" stroke="#262626" stroke-width="0.95" />
<text x="493.15" y="391.60" text-anchor="middle" >0.3</text>
<line x1="509.70" y1="380.90" x2="509.70" y2="382.50" stroke="#262626" stroke-width="0.95" />
<line x1="526.25" y1="380.90" x2="526.25" y2="382.50" stroke="#262626" stroke-width="0.95" />
<line x1="542.80" y1="380.90" x2="542.80" y2="383.30" stroke="#262626" stroke-width="0.95" />
<text x="542.80" y="391.60" text-anchor="middle" >0.6</text>
<line x1="559.35" y1="380.90" x2="559.35" y2="382.50" stroke="#262626" stroke-width="0.95" />
<line x1="575.90" y1="380.90" x2="575.90" y2="382.50" stroke="#262626" stroke-width="0.95" />
<line x1="592.45" y1="380.90" x2="592.45" y2="383.30" stroke="#262626" stroke-width="0.95" />
<text x="592.45" y="391.60" text-anchor="middle" >0.9</text>
<text x="517.50" y="403.20" text-anchor="middle" >Power conversion efficiency (%)</text>
<text transform="translate(409.90 193.40) rotate(-90)" text-anchor="middle" >Power per unit activity (&#181;W Ci<tspan font-size="5.5" dy="-2.5" stroke-width="0.1">&#8722;1</tspan><tspan dy="2.5" font-size="8.3">&#8203;</tspan>)</text>
<path d="M590.20,13.20 L591.29,16.30 L594.57,16.38 L591.96,18.37 L592.90,21.52 L590.20,19.65 L587.50,21.52 L588.44,18.37 L585.83,16.38 L589.11,16.30 Z" fill="#e8262d"/>
<text x="526.00" y="20.00" text-anchor="start" >(This work)</text>
<text x="526.00" y="29.70" text-anchor="start" >0.011 mCi <tspan font-size="5.5" dy="-2.5" stroke-width="0.1">243</tspan><tspan dy="2.5" font-size="8.3">&#8203;</tspan>Am (&#945;)</text>
<text x="526.00" y="39.30" text-anchor="start" >TbMel:1%Am</text>
<circle cx="461.60" cy="40.00" r="1.55" fill="#34448a"/>
<text x="465.60" y="42.50" text-anchor="start" >(Ref. 9)</text>
<text x="465.60" y="52.20" text-anchor="start" >300 mCi <tspan font-size="5.5" dy="-2.5" stroke-width="0.1">238</tspan><tspan dy="2.5" font-size="8.3">&#8203;</tspan>Pu (&#945;)</text>
<text x="465.60" y="61.90" text-anchor="start" >ZnS glass</text>
<circle cx="496.00" cy="80.60" r="1.5" fill="#707070"/>
<text x="500.00" y="83.20" text-anchor="start" >(Ref. 30)</text>
<text x="500.00" y="93.00" text-anchor="start" >1.3 mCi <tspan font-size="5.5" dy="-2.5" stroke-width="0.1">90</tspan><tspan dy="2.5" font-size="8.3">&#8203;</tspan>Sr (&#946;)</text>
<text x="500.00" y="102.80" text-anchor="start" >Ce:YAG</text>
<text x="444.00" y="185.40" text-anchor="start" >(Ref. 28)</text>
<text x="444.00" y="195.20" text-anchor="start" >9.4 Ci <tspan font-size="5.5" dy="-2.5" stroke-width="0.1">109</tspan><tspan dy="2.5" font-size="8.3">&#8203;</tspan>Cd (X-ray)</text>
<text x="444.00" y="205.00" text-anchor="start" >ZnS:Cu</text>
<line x1="463.40" y1="210.80" x2="463.40" y2="244.00" stroke="#222" stroke-width="0.7" />
<circle cx="463.30" cy="244.40" r="1.65" fill="#66362a"/>
<text x="481.60" y="210.00" text-anchor="start" >(Ref. 27)</text>
<text x="481.60" y="220.00" text-anchor="start" >2.9 mCi <tspan font-size="5.5" dy="-2.5" stroke-width="0.1">147</tspan><tspan dy="2.5" font-size="8.3">&#8203;</tspan>Pm (&#946;)</text>
<text x="481.60" y="230.00" text-anchor="start" >ZnS:Cu</text>
<line x1="485.80" y1="234.60" x2="470.40" y2="249.20" stroke="#222" stroke-width="0.7" />
<circle cx="470.00" cy="249.60" r="1.6" fill="#268c8c"/>
<text x="537.00" y="181.20" text-anchor="start" >(Ref. 24)</text>
<text x="537.00" y="191.00" text-anchor="start" >5.85 mCi <tspan font-size="5.5" dy="-2.5" stroke-width="0.1">63</tspan><tspan dy="2.5" font-size="8.3">&#8203;</tspan>Ni (&#946;)</text>
<text x="537.00" y="200.80" text-anchor="start" >ZnS:Cu/Al</text>
<circle cx="549.40" cy="206.00" r="1.6" fill="#1c1c94"/>
<text x="547.00" y="231.00" text-anchor="start" >(Ref. 29)</text>
<text x="547.00" y="240.80" text-anchor="start" >18 Ci <tspan font-size="5.5" dy="-2.5" stroke-width="0.1">3</tspan><tspan dy="2.5" font-size="8.3">&#8203;</tspan>H (&#946;)</text>
<text x="547.00" y="250.60" text-anchor="start" >ZnS:Cu</text>
<circle cx="542.00" cy="238.40" r="1.8" fill="#b0669a"/>
<circle cx="491.00" cy="248.00" r="1.65" fill="#4f84d6"/>
<text x="495.60" y="250.60" text-anchor="start" >(Ref. 23)</text>
<text x="495.60" y="260.40" text-anchor="start" >15 mCi <tspan font-size="5.5" dy="-2.5" stroke-width="0.1">63</tspan><tspan dy="2.5" font-size="8.3">&#8203;</tspan>Ni (&#946;)</text>
<text x="495.60" y="270.20" text-anchor="start" >ZnS:Cu/Al film</text>
<text x="495.60" y="279.80" text-anchor="start" >with integrated <tspan font-size="5.5" dy="-2.5" stroke-width="0.1">63</tspan><tspan dy="2.5" font-size="8.3">&#8203;</tspan>Ni</text>
<circle cx="454.40" cy="275.60" r="1.6" fill="#4f84d6"/>
<text x="440.00" y="286.20" text-anchor="start" >(Ref. 23)</text>
<text x="440.00" y="296.00" text-anchor="start" >15 mCi <tspan font-size="5.5" dy="-2.5" stroke-width="0.1">63</tspan><tspan dy="2.5" font-size="8.3">&#8203;</tspan>Ni (&#946;)</text>
<text x="440.00" y="305.80" text-anchor="start" >ZnS:Cu/Al film</text>
<circle cx="457.40" cy="313.60" r="1.25" fill="#4a4a4a"/>
<text x="440.00" y="323.60" text-anchor="start" >(Ref. 25)</text>
<text x="440.00" y="333.60" text-anchor="start" >0.72 mCi <tspan font-size="5.5" dy="-2.5" stroke-width="0.1">147</tspan><tspan dy="2.5" font-size="8.3">&#8203;</tspan>Pm (&#946;)</text>
<text x="440.00" y="343.40" text-anchor="start" >ZnS:Cu</text>
<circle cx="513.00" cy="325.40" r="1.55" fill="#1c8468"/>
<text x="518.00" y="319.40" text-anchor="start" >(Ref. 26)</text>
<text x="518.00" y="329.20" text-anchor="start" >2.5 mCi <tspan font-size="5.5" dy="-2.5" stroke-width="0.1">147</tspan><tspan dy="2.5" font-size="8.3">&#8203;</tspan>Pm (&#946;)</text>
<text x="518.00" y="339.00" text-anchor="start" >ZnS:Cu</text>
<circle cx="523.00" cy="364.40" r="1.55" fill="#1c8468"/>
<text x="528.60" y="357.20" text-anchor="start" >(Ref. 26)</text>
<text x="528.60" y="367.00" text-anchor="start" >5.48 mCi <tspan font-size="5.5" dy="-2.5" stroke-width="0.1">63</tspan><tspan dy="2.5" font-size="8.3">&#8203;</tspan>Ni (&#946;)</text>
<text x="528.60" y="376.80" text-anchor="start" >ZnS:Cu</text>
</g>
</svg>
</body>
</html>
